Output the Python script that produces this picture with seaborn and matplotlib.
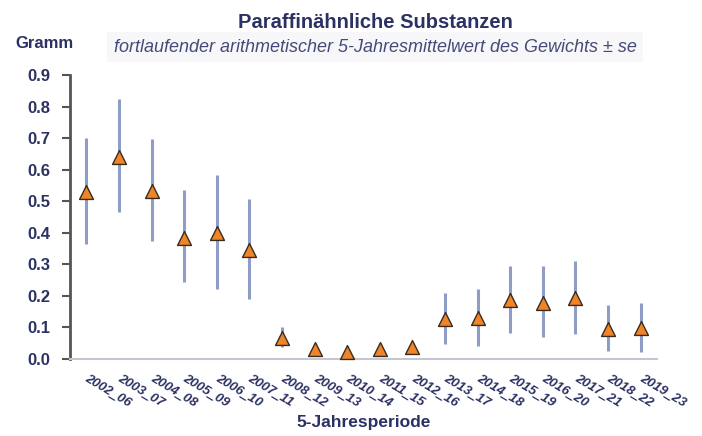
import matplotlib
matplotlib.use("Agg")
import matplotlib.pyplot as plt
import numpy as np
import pandas as pd
import seaborn as sns

periods = ["2002_06", "2003_07", "2004_08", "2005_09", "2006_10", "2007_11",
           "2008_12", "2009_13", "2010_14", "2011_15", "2012_16", "2013_17",
           "2014_18", "2015_19", "2016_20", "2017_21", "2018_22", "2019_23"]
mean = [0.530, 0.640, 0.533, 0.385, 0.400, 0.346, 0.068, 0.033, 0.022, 0.032,
        0.038, 0.126, 0.130, 0.187, 0.178, 0.194, 0.095, 0.097]
lower = [0.365, 0.466, 0.374, 0.244, 0.222, 0.190, 0.037, 0.020, 0.010, 0.020,
         0.025, 0.046, 0.042, 0.082, 0.069, 0.079, 0.024, 0.021]
upper = [0.700, 0.824, 0.697, 0.535, 0.583, 0.508, 0.100, 0.048, 0.034, 0.045,
         0.050, 0.210, 0.222, 0.294, 0.294, 0.312, 0.172, 0.178]

yticks = [0.0, 0.1, 0.2, 0.3, 0.4, 0.5, 0.6, 0.7, 0.8, 0.9]

df = pd.DataFrame({"periode": periods, "mittel": mean, "lo": lower, "hi": upper})

sns.set_style("white")
plt.rcParams["font.family"] = ["Liberation Sans", "DejaVu Sans"]

navy = "#2b3163"

fig = plt.figure(figsize=(7.02, 4.36), dpi=100)
ax = fig.add_axes([70 / 702, 77 / 436, 587 / 702, 284 / 436])

ax.vlines(df["periode"], df["lo"], df["hi"], color="#8e9cc6", linewidth=2.2, zorder=2)
sns.scatterplot(data=df, x="periode", y="mittel", marker="^", s=100,
                color="#ef8428", edgecolor="#3a2b1e", linewidth=1.0,
                zorder=3, clip_on=False, ax=ax)

ax.set_xlim(-0.5, len(periods) - 0.5)
ax.set_ylim(0, 0.9)
ax.set_yticks(yticks)
ax.set_yticklabels([f"{v:.1f}" for v in yticks], fontsize=12, fontweight="bold", color=navy)

ax.set_xticks(range(len(periods)))
ax.set_xticklabels(periods, rotation=-31, ha="left", va="center",
                   rotation_mode="anchor", fontsize=9.5, fontweight="bold",
                   fontstyle="italic", color=navy)
ax.set_xticks(np.arange(-0.5, len(periods), 1), minor=True)
ax.tick_params(axis="x", which="major", length=0, pad=13)
ax.tick_params(axis="x", which="minor", length=4, width=1, color="#c4c6d0", direction="out")
ax.tick_params(axis="y", length=6, width=1.5, color="#555555", direction="out", pad=8, left=True)

for side in ["top", "right"]:
    ax.spines[side].set_visible(False)
ax.spines["left"].set_color("#555555")
ax.spines["left"].set_linewidth(2)
ax.spines["bottom"].set_color("#c4c6d0")
ax.spines["bottom"].set_linewidth(1.5)

ax.set_xlabel("")
ax.set_ylabel("")

fig.text(364 / 702, 1 - 422 / 436, "5-Jahresperiode", ha="center", va="center",
         fontsize=12.5, fontweight="bold", color=navy)
fig.text(375 / 702, 1 - 23 / 436, "Paraffinähnliche Substanzen", ha="center", va="center",
         fontsize=14.5, fontweight="bold", color=navy)
fig.text(375 / 702, 1 - 47 / 436,
         "fortlaufender arithmetischer 5-Jahresmittelwert des Gewichts ± se",
         ha="center", va="center", fontsize=13, fontstyle="italic", color="#454a78",
         bbox=dict(facecolor="#f7f7f9", edgecolor="none", pad=5))
fig.text(44 / 702, 1 - 43 / 436, "Gramm", ha="center", va="center",
         fontsize=12, fontweight="bold", color=navy)

fig.savefig("out.png", dpi=100)
